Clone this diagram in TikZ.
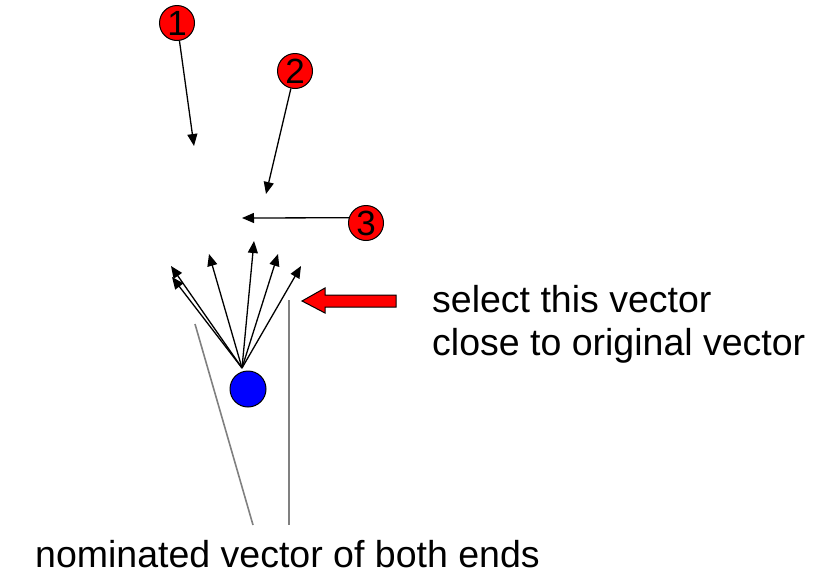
\documentclass[tikz,border=0pt]{standalone}
\usepackage{fontspec}
\setmainfont{Liberation Sans}
\usetikzlibrary{arrows.meta}
\begin{document}
\begin{tikzpicture}[x=1pt,y=-1pt,
  vec/.style={line width=1.3pt,-{Triangle[length=12pt,width=10pt]}},
  numball/.style={circle,draw=black,line width=1pt,fill=red,minimum size=35pt,inner sep=0pt,font=\fontsize{35}{35}\selectfont},
  guide/.style={draw=gray,line width=1.6pt},
  lbl/.style={anchor=base west,inner sep=0pt,font=\fontsize{37.5}{45}\selectfont}]
\useasboundingbox (0,0) rectangle (840,587);
% numbered balls
\node[numball] (n1) at (177,23) {1};
\node[numball] (n2) at (295,71) {2};
\node[numball] (n3) at (366,223) {3};
\coordinate (t1) at (194,146);
\coordinate (t2) at (266,194);
\coordinate (t3) at (242,218);
\draw[vec] (n1) -- (t1);
\draw[vec] (n2) -- (t2);
\draw[vec] (n3.163) -- (t3);
% blue ball and fan of vectors
\node[circle,draw=black,line width=1pt,fill=blue,minimum size=36pt,inner sep=0pt] (ball) at (248,389) {};
\coordinate (o) at (242,368);
\coordinate (f1) at (171,266);
\coordinate (f2) at (172,277);
\coordinate (f3) at (209,254);
\coordinate (f4) at (254,241);
\coordinate (f5) at (278,254);
\coordinate (f6) at (301,266);
\foreach \f in {f1,f2,f3,f4,f5,f6} \draw[vec] (o) -- (\f);
% guide lines
\coordinate (g1a) at (195,324);
\coordinate (g1b) at (253,525);
\coordinate (g2a) at (289,300);
\coordinate (g2b) at (289,525);
\draw[guide] (g1a) -- (g1b);
\draw[guide] (g2a) -- (g2b);
% red block arrow
\draw[fill=red,draw=black,line width=1pt] (302,301) -- (325,288) -- (325,295) -- (396,295) -- (396,307) -- (325,307) -- (325,313) -- cycle;
% labels
\node[lbl] (l1) at (432,312) {select this vector};
\node[lbl] (l2) at (432,355) {close to original vector};
\node[lbl] (l3) at (35,567) {nominated vector of both ends};
\end{tikzpicture}
\end{document}
